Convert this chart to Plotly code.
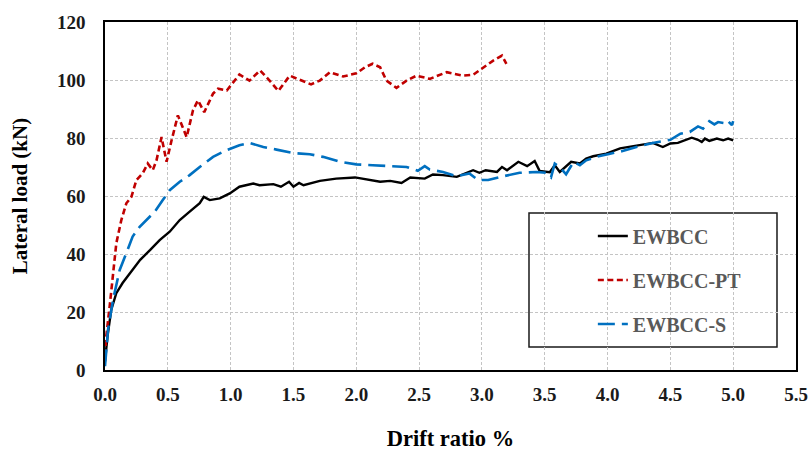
import plotly.graph_objects as go

# ---- data ----
ewbcc_x = [0, 0.02, 0.05, 0.09, 0.14, 0.2, 0.28, 0.36, 0.435, 0.515, 0.595, 0.674, 0.754, 0.786, 0.834,
           0.913, 0.993, 1.07, 1.18, 1.23, 1.34, 1.40, 1.465, 1.50, 1.545, 1.58, 1.71, 1.84, 1.99, 2.19,
           2.27, 2.36, 2.43, 2.545, 2.61, 2.69, 2.80, 2.93, 2.98, 3.03, 3.12, 3.16, 3.20, 3.29, 3.36,
           3.42, 3.46, 3.54, 3.58, 3.62, 3.66, 3.71, 3.78, 3.83, 3.885, 3.99, 4.10, 4.26, 4.36, 4.44,
           4.50, 4.56, 4.63, 4.67, 4.72, 4.75, 4.775, 4.81, 4.87, 4.92, 4.96, 5.0]
ewbcc_y = [3, 11.6, 20.8, 26.5, 30, 33.4, 38, 41.4, 44.8, 47.7, 51.7, 54.6, 57.5, 59.7, 58.6,
           59.2, 60.9, 63.2, 64.3, 63.7, 64.1, 63.2, 64.9, 63.2, 64.5, 63.7, 65.2, 66, 66.4, 64.9,
           65.2, 64.5, 66.4, 66, 67.4, 67.2, 66.6, 68.9, 68, 68.9, 68.3, 70, 68.9, 71.8, 70.3,
           72.1, 68.6, 68.2, 70.6, 68.3, 70, 71.8, 71.2, 72.9, 73.7, 74.6, 76.4, 77.5, 78.3, 76.9,
           78.1, 78.3, 79.4, 80.1, 79.4, 78.6, 79.8, 79, 79.8, 79.2, 79.8, 79.2]

pt_x = [0, 0.01, 0.037, 0.064, 0.09, 0.13, 0.17, 0.21, 0.25, 0.30, 0.34, 0.38, 0.41, 0.45, 0.49,
        0.53, 0.58, 0.65, 0.70, 0.74, 0.79, 0.86, 0.90, 0.97, 1.03, 1.07, 1.15, 1.235, 1.31, 1.38,
        1.47, 1.55, 1.64, 1.71, 1.79, 1.895, 2.00, 2.07, 2.13, 2.19, 2.24, 2.32, 2.40, 2.48, 2.585,
        2.72, 2.85, 2.93, 3.01, 3.09, 3.16, 3.195]
pt_y = [5, 11.6, 21.9, 33.4, 43.7, 51.7, 57.5, 59.7, 65.5, 67.8, 71.2, 68.9, 72.3, 80.3, 71.8,
        79.2, 87.8, 80.3, 89.5, 93, 88.9, 95.3, 97, 96.4, 99.8, 101.9, 99.8, 103.3, 99.8, 96.2,
        101.5, 100.1, 98.5, 99.8, 102.7, 101.2, 102.3, 104.4, 105.6, 104.4, 99.8, 97.3, 99.8, 101.5, 100.4,
        102.7, 101.5, 101.8, 104.4, 106.7, 108.4, 105.6]

s_x = [0, 0.024, 0.064, 0.117, 0.17, 0.22, 0.276, 0.33, 0.396, 0.46, 0.515, 0.595, 0.674, 0.754, 0.86,
       0.967, 1.07, 1.15, 1.26, 1.365, 1.50, 1.63, 1.735, 1.87, 2.00, 2.13, 2.27, 2.40, 2.49, 2.545,
       2.585, 2.69, 2.80, 2.90, 2.97, 3.05, 3.17, 3.30, 3.435, 3.51, 3.55, 3.58, 3.62, 3.67, 3.73,
       3.78, 3.83, 3.91, 4.02, 4.12, 4.23, 4.36, 4.50, 4.58, 4.655, 4.72, 4.76, 4.81, 4.85, 4.88,
       4.95, 4.96, 4.99, 5.0]
s_y = [1.3, 13.9, 24.2, 34.5, 40.3, 46, 49.4, 51.7, 54.6, 58.6, 62, 64.9, 67.2, 70, 73.5,
       75.8, 77.5, 78.3, 76.9, 76, 74.8, 74.4, 73.5, 71.8, 70.9, 70.6, 70.3, 70, 68.7, 70.3,
       69.1, 68.3, 66.8, 67.8, 65.5, 65.5, 66.8, 68, 68.3, 68, 66.4, 71.2, 70, 67.5, 71.8,
       70.6, 72.3, 73.5, 74.6, 75.5, 76.9, 78.3, 79.4, 81.5, 82.1, 84, 83.2, 85.8, 84.7, 85.5,
       85, 85.8, 84.4, 85.8]

series_names = ["EWBCC", "EWBCC-PT", "EWBCC-S"]
x_title = "Drift ratio %"
y_title = "Lateral load (kN)"

FONT = "Liberation Serif"

fig = go.Figure()
fig.add_trace(go.Scatter(x=ewbcc_x, y=ewbcc_y, mode="lines", name=series_names[0],
                         legendgroup="a",
                         line=dict(color="#000000", width=2.4)))
fig.add_trace(go.Scatter(x=pt_x, y=pt_y, mode="lines", name=series_names[1],
                         legendgroup="b",
                         line=dict(color="#C00000", width=2.6, dash="6px,3.5px")))
fig.add_trace(go.Scatter(x=s_x, y=s_y, mode="lines", name=series_names[2],
                         legendgroup="c",
                         line=dict(color="#0070C0", width=2.6, dash="17px,7px")))

axis_common = dict(
    showgrid=True, gridcolor="#C4C4C4", griddash="3px,2px", gridwidth=1,
    showline=True, linecolor="#000000", linewidth=1.5, mirror=True,
    zeroline=False, ticks="", automargin=False,
    tickfont=dict(family=FONT, size=19, color="#1a1a1a", weight="bold"),
)

fig.update_xaxes(range=[0, 5.5], dtick=0.5, tick0=0, tickformat=".1f",
                 ticklabelstandoff=6,
                 title=dict(text="<b>" + x_title + "</b>", standoff=32,
                            font=dict(family=FONT, size=22.5, color="#000000")),
                 **axis_common)
fig.update_yaxes(range=[0, 120], dtick=20, tick0=0,
                 ticklabelstandoff=14,
                 title=dict(text="<b>" + y_title + "</b>", standoff=24,
                            font=dict(family=FONT, size=21, color="#000000")),
                 **axis_common)

fig.update_layout(
    width=812, height=451,
    margin=dict(l=105, r=16, t=22, b=81, autoexpand=False),
    paper_bgcolor="white", plot_bgcolor="white",
    showlegend=True,
    legend=dict(
        x=0.706, y=0.441, xanchor="left", yanchor="top",
        bgcolor="rgba(255,255,255,0)", borderwidth=0,
        traceorder="grouped", tracegroupgap=15,
        font=dict(family=FONT, size=20, color="#595959", weight="bold"),
    ),
    shapes=[dict(type="rect", xref="paper", yref="paper",
                 x0=0.6136, x1=0.9725, y0=0.066, y1=0.451,
                 line=dict(color="#1a1a1a", width=1.5),
                 fillcolor="white", layer="below")],
)

# remove the page's default body margin so the 812x451 figure fills the window
fig.write_html("out.html", config={"displayModeBar": False},
               post_script="document.body.style.margin='0';")
